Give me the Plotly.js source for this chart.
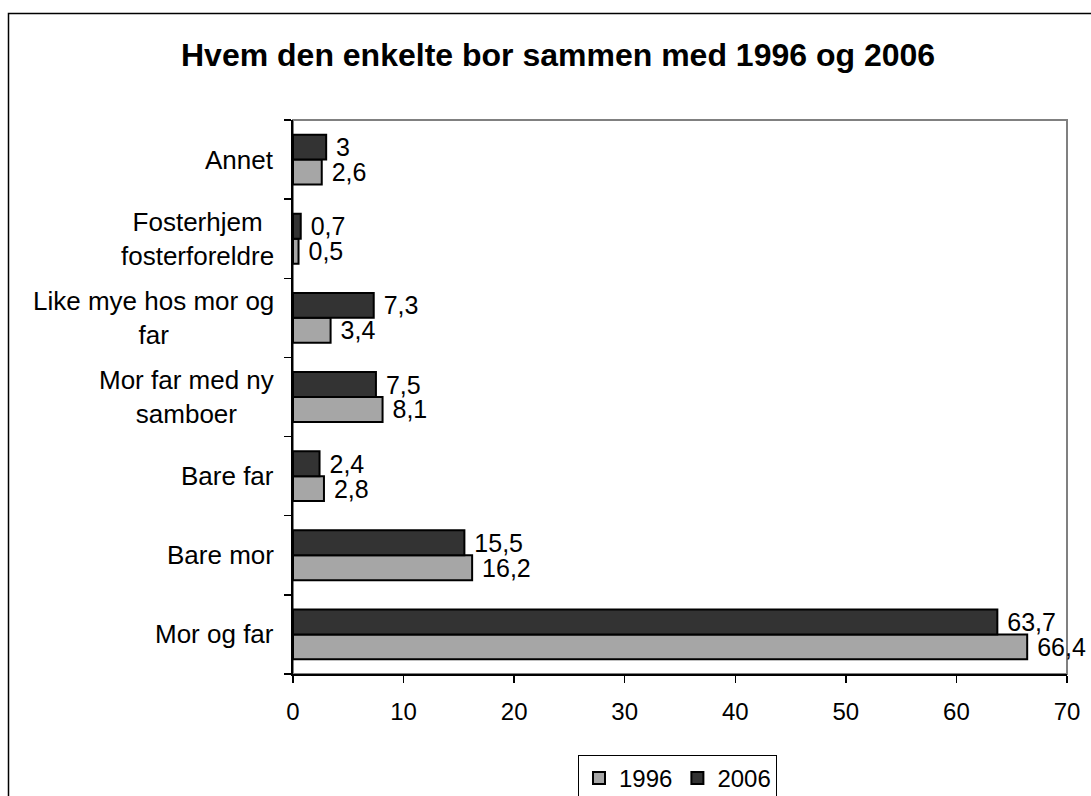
<!DOCTYPE html>
<html>
<head>
<meta charset="utf-8">
<script src="https://cdn.plot.ly/plotly-3.0.1.min.js"></script>
<style>
html,body{margin:0;padding:0;background:#fff;}
#chart{width:1091px;height:796px;}
</style>
</head>
<body>
<div id="chart"></div>
<script>
// Data (categories listed from bottom to top)
const categories = [
  "Mor og far",
  "Bare mor",
  "Bare far",
  "Mor far med ny<br>samboer",
  "Like mye hos mor og<br>far",
  "Fosterhjem<br>fosterforeldre",
  "Annet"
];
const values1996 = [66.4, 16.2, 2.8, 8.1, 3.4, 0.5, 2.6];
const values2006 = [63.7, 15.5, 2.4, 7.5, 7.3, 0.7, 3.0];
const seriesNames = ["1996", "2006"];
const xTickVals = [0, 10, 20, 30, 40, 50, 60, 70];

const FONT = "Liberation Sans, Arial, Helvetica, sans-serif";
const fmt = v => ' ' + String(v).replace('.', ',');

const common = {
  type: 'bar',
  orientation: 'h',
  y: categories,
  textposition: 'outside',
  cliponaxis: false,
  constraintext: 'none',
  textfont: {family: FONT, size: 25, color: '#000'},
  hoverinfo: 'x+y'
};

const traces = [
  Object.assign({}, common, {
    name: seriesNames[0],
    x: values1996,
    text: values1996.map(fmt),
    marker: {color: '#a6a6a6', line: {color: '#000', width: 2}}
  }),
  Object.assign({}, common, {
    name: seriesNames[1],
    x: values2006,
    text: values2006.map(fmt),
    marker: {color: '#333333', line: {color: '#000', width: 2}}
  })
];

const annotations = categories.map(c => ({
  xref: 'paper', yref: 'y',
  x: 0, y: c,
  xanchor: 'right', yanchor: 'middle',
  xshift: -17,
  text: c,
  align: 'center',
  showarrow: false,
  font: {family: FONT, size: 26, color: '#000'}
}));

const layout = {
  width: 1091,
  height: 796,
  margin: {l: 293, r: 24, t: 120, b: 122},
  paper_bgcolor: '#fff',
  plot_bgcolor: '#fff',
  font: {family: FONT, size: 24, color: '#000'},
  separators: ',.',
  barmode: 'group',
  bargap: 0.37,
  bargroupgap: 0,
  title: {
    text: '<b>Hvem den enkelte bor sammen med 1996 og 2006</b>',
    font: {family: FONT, size: 32, color: '#000'},
    x: 0.5115, xanchor: 'center',
    y: 1 - 55/796, yanchor: 'middle'
  },
  xaxis: {
    range: [0, 70],
    tickvals: xTickVals,
    ticks: 'outside', ticklen: 7, tickwidth: 1.5, tickcolor: '#000',
    showline: true, linecolor: '#000', linewidth: 2,
    showgrid: false, zeroline: false,
    tickfont: {family: FONT, size: 24, color: '#000'},
    ticklabelstandoff: 8,
    fixedrange: true
  },
  yaxis: {
    type: 'category',
    categoryorder: 'array',
    categoryarray: categories,
    showticklabels: false,
    ticks: 'outside', ticklen: 7, tickwidth: 1.5, tickcolor: '#000',
    tickson: 'boundaries',
    showline: true, linecolor: '#000', linewidth: 2,
    showgrid: false, zeroline: false,
    fixedrange: true
  },
  showlegend: true,
  legend: {
    orientation: 'h',
    xref: 'paper',
    x: (578 - 293) / 774, xanchor: 'left',
    yref: 'container',
    y: 1 - 755 / 796, yanchor: 'top',
    bordercolor: '#000', borderwidth: 1,
    bgcolor: '#fff',
    traceorder: 'normal',
    font: {family: FONT, size: 24, color: '#000'},
    itemwidth: 30
  },
  annotations: annotations,
  shapes: [
    {type: 'rect', xref: 'paper', yref: 'paper', x0: 0, x1: 1, y0: 0, y1: 1,
     line: {color: '#808080', width: 2}, layer: 'below'},
    {type: 'rect', xref: 'paper', yref: 'paper',
     x0: (8.5 - 293) / 774, x1: 1.2, y0: -0.5, y1: (674 - 13.5) / 554,
     line: {color: '#000', width: 1.5}, layer: 'below'}
  ]
};

Plotly.newPlot('chart', traces, layout, {displayModeBar: false, staticPlot: true});
</script>
</body>
</html>
